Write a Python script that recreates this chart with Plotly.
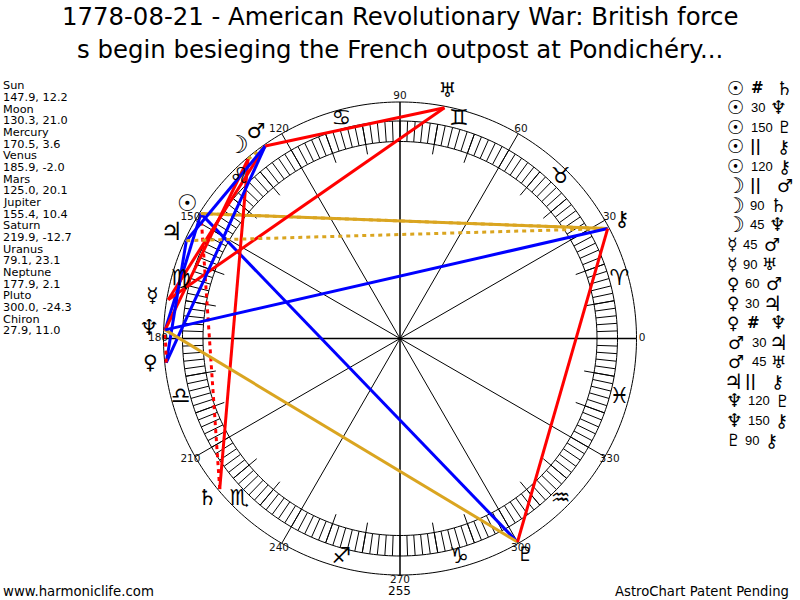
import plotly.graph_objects as go

# ---------- data ----------
planet_names = ["Sun", "Moon", "Mercury", "Venus", "Mars", "Jupiter", "Saturn", "Uranus", "Neptune", "Pluto", "Chiron"]
longitudes = [147.9, 130.3, 170.5, 185.9, 125.0, 155.4, 219.9, 79.1, 177.9, 300.0, 27.9]
declinations = [12.2, 21.0, 3.6, -2.0, 20.1, 10.4, -12.7, 23.1, 2.1, -24.3, 11.0]
planet_glyphs = ["<b>☉</b>", "☽", "☿", "♀", "♂", "♃", "♄", "♅", "♆", "♇", "⚷"]
zodiac_glyphs = ["♈", "♉", "♊", "♋", "♌", "♍", "♎", "♏", "♐", "♑", "♒", "♓"]
aspect_from = ["Sun", "Sun", "Sun", "Sun", "Sun", "Moon", "Moon", "Moon", "Mercury", "Mercury",
               "Venus", "Venus", "Venus", "Mars", "Mars", "Jupiter", "Neptune", "Neptune", "Pluto"]
aspect_kind = ["#", "30", "150", "||", "120", "||", "90", "45", "45", "90",
               "60", "30", "#", "30", "45", "||", "120", "150", "90"]
aspect_to = ["Saturn", "Neptune", "Pluto", "Chiron", "Chiron", "Mars", "Saturn", "Neptune", "Mars", "Uranus",
             "Mars", "Jupiter", "Neptune", "Jupiter", "Uranus", "Chiron", "Pluto", "Chiron", "Chiron"]
degree_labels = [0, 30, 60, 90, 120, 150, 180, 210, 240, 270, 300, 330]
title_lines = ["1778-08-21 - American Revolutionary War: British force",
               "s begin besieging the French outpost at Pondichéry..."]
footer_left = "www.harmoniclife.com"
footer_center = "255"
footer_right = "AstroChart Patent Pending"

# ---------- styles and geometry ----------
FONT = "DejaVu Sans"
CX, CY, MAXR = 400, 338.5, 261.5
R_OUT, R_BAND_OUT, R_BAND_IN, R_TICK = 236.5, 217.5, 197, 187
R_ASPECT, R_GLYPH, R_LABEL, R_SIGN = 235, 251, 242, 227
RED, BLUE, GOLD = "#FF0000", "#0000FF", "#DAA520"
STYLE = {"#": (RED, "4px,4px"), "||": (GOLD, "4px,4px"),
         "30": (BLUE, "solid"), "60": (BLUE, "solid"), "150": (BLUE, "solid"),
         "45": (RED, "solid"), "90": (RED, "solid"), "120": (GOLD, "solid")}
GLYPH_SIZE = {"Sun": 23, "Moon": 25, "Mercury": 20, "Venus": 20, "Mars": 21, "Jupiter": 25,
              "Saturn": 22, "Uranus": 20, "Neptune": 22, "Pluto": 20, "Chiron": 21}
LIST_SCALE = 0.85
lon = dict(zip(planet_names, longitudes))
dec = dict(zip(planet_names, declinations))
glyph = dict(zip(planet_names, planet_glyphs))

fig = go.Figure()


def segs(rows):
    r, t = [], []
    for r0, r1, a in rows:
        r += [r0, r1, None]
        t += [a, a, None]
    return r, t


def black(r, t, w=1):
    fig.add_trace(go.Scatterpolar(r=r, theta=t, mode="lines", line=dict(color="black", width=w),
                                  hoverinfo="skip", showlegend=False))


# circles
for rad in (R_OUT, R_BAND_OUT, R_BAND_IN):
    th = list(range(0, 361))
    black([rad] * len(th), th)
# rungs every 2 degrees
r, t = segs([(R_BAND_IN, R_BAND_OUT, a) for a in range(0, 360, 2)])
black(r, t)
# long ticks every 10 degrees
r, t = segs([(R_TICK, R_BAND_OUT, a) for a in range(0, 360, 10) if a % 30])
black(r, t)
# spokes
r, t = segs([(0, R_OUT, a) for a in range(0, 360, 30) if a % 90])
black(r, t)
r, t = segs([(0, R_OUT, a) for a in range(0, 360, 90)])
black(r, t, 1.5)

# aspect lines
for a, k, b in zip(aspect_from, aspect_kind, aspect_to):
    col, dash = STYLE[k]
    fig.add_trace(go.Scatterpolar(r=[R_ASPECT, R_ASPECT], theta=[lon[a], lon[b]], mode="lines",
                                  line=dict(color=col, width=3, dash=dash),
                                  hoverinfo="skip", showlegend=False))

# degree labels
fig.add_trace(go.Scatterpolar(r=[R_LABEL] * len(degree_labels), theta=degree_labels, mode="text",
                              text=[str(d) for d in degree_labels],
                              textfont=dict(family=FONT, size=10.5, color="#111"),
                              hoverinfo="skip", showlegend=False))
# zodiac glyphs
fig.add_trace(go.Scatterpolar(r=[R_SIGN] * 12, theta=[15 + 30 * i for i in range(12)], mode="text",
                              text=[z + "\ufe0e" for z in zodiac_glyphs],
                              textfont=dict(family=FONT, size=22, color="black"),
                              hoverinfo="skip", showlegend=False))
# planet glyphs
fig.add_trace(go.Scatterpolar(r=[R_GLYPH] * len(longitudes), theta=longitudes, mode="text",
                              text=planet_glyphs,
                              textfont=dict(family=FONT, size=[GLYPH_SIZE[n] for n in planet_names], color="black"),
                              hoverinfo="skip", showlegend=False))

ann = []


def put(x, y, text, size, anchor="left", bold=False, family=FONT):
    if bold:
        text = "<b>" + text + "</b>"
    ann.append(dict(x=x / 800, y=1 - y / 600, xref="paper", yref="paper", text=text, showarrow=False,
                    xanchor=anchor, yanchor="middle", align=anchor, borderpad=0,
                    font=dict(family=family, size=size, color="black")))


# title
put(400, 17, title_lines[0], 24.4, "center")
put(400, 49, title_lines[1], 24.4, "center")
# left list
for i, n in enumerate(planet_names):
    put(1.5, 86 + 23.33 * i, n, 11.3)
    put(1.5, 97.5 + 23.33 * i, f"{lon[n]}, {dec[n]}", 11.3)
# right list
col1 = [736, 736, 736, 736, 736, 735, 735, 735, 732, 732, 733, 733, 733, 736, 736, 733, 734, 734, 733]
col2 = [757, 758, 762, 755, 762, 755, 757, 757, 750, 750, 752, 752, 753, 759, 759, 750, 759, 759, 752]
col3 = [784, 778, 784, 783, 784, 785, 778, 777, 772, 769, 774, 772, 778, 778, 778, 777, 782, 781, 771]
for i, (a, k, b) in enumerate(zip(aspect_from, aspect_kind, aspect_to)):
    y = 88 + 19.56 * i
    put(col1[i], y, glyph[a], GLYPH_SIZE[a] * LIST_SCALE, "center")
    if k in ("#", "||"):
        put(col2[i], y, k, 15, "center", bold=True)
    else:
        put(col2[i], y, k, 13, "center", family="Liberation Sans")
    put(col3[i], y, glyph[b], GLYPH_SIZE[b] * LIST_SCALE, "center")
# footers
put(2, 591, footer_left, 13.3)
put(399, 591, footer_center, 12, "center")
put(790, 591, footer_right, 13.2, "right")

fig.update_layout(
    width=800, height=600, autosize=False,
    margin=dict(l=0, r=0, t=0, b=0), paper_bgcolor="white", plot_bgcolor="white",
    showlegend=False, annotations=ann,
    polar=dict(domain=dict(x=[(CX - MAXR) / 800, (CX + MAXR) / 800], y=[0, 2 * MAXR / 600]),
               bgcolor="white",
               radialaxis=dict(visible=False, range=[0, MAXR]),
               angularaxis=dict(visible=False, rotation=0, direction="counterclockwise")),
)
fig.write_html("out.html", config=dict(displayModeBar=False),
               post_script="document.body.style.margin='0';document.documentElement.style.overflow='hidden';")
